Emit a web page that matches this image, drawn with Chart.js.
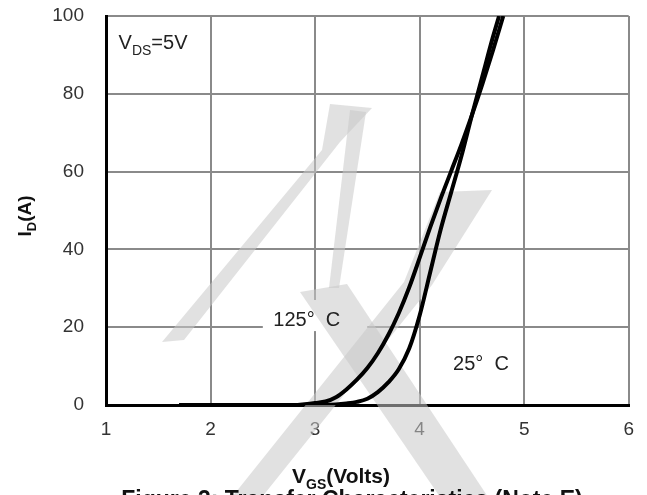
<!DOCTYPE html>
<html>
<head>
<meta charset="utf-8">
<script src="https://cdn.jsdelivr.net/npm/chart.js@4.4.0/dist/chart.umd.min.js"></script>
<style>
  html, body { margin: 0; padding: 0; background: #fff; }
  #wrap { width: 647px; height: 495px; }
</style>
</head>
<body>
<div id="wrap"><canvas id="c"></canvas></div>
<script>
// transfer curves
const vgs25 = [1.7, 3.0, 3.2, 3.3, 3.4, 3.5, 3.6, 3.7, 3.8, 3.9, 4.0, 4.1, 4.2, 4.3, 4.4, 4.5, 4.6, 4.7, 4.76];
const id25  = [0,   0,   0.15, 0.4, 0.8, 1.6, 3.3, 5.8, 9.2, 14.5, 23, 34, 45, 54.5, 64, 74.5, 84.5, 94.5, 100];
const vgs125 = [1.7, 2.8, 2.9, 3.0, 3.1, 3.2, 3.3, 3.4, 3.5, 3.6, 3.7, 3.8, 3.9, 4.0, 4.1, 4.2, 4.3, 4.4, 4.5, 4.6, 4.7, 4.8];
const id125  = [0,   0,   0.2, 0.5, 0.9, 2,   4,   6.5, 9.5, 13.3, 18, 23.6, 30.2, 37.8, 45.6, 53, 60, 67, 74.5, 82.5, 91, 100];
const xTicks = [1, 2, 3, 4, 5, 6];
const yTicks = [0, 20, 40, 60, 80, 100];

const FONT = '"Liberation Sans", Arial, sans-serif';

function toPts(xs, ys) {
  return xs.map((v, i) => ({ x: v, y: ys[i] }));
}

// text with a subscript part: [main, sub, rest]
function subText(ctx, x, y, parts, size, bold, align) {
  const f = (s) => (bold ? 'bold ' : '') + s + 'px ' + FONT;
  const subSize = Math.round(size * 0.68);
  ctx.font = f(size);
  const w1 = ctx.measureText(parts[0]).width;
  const w3 = ctx.measureText(parts[2]).width;
  ctx.font = f(subSize);
  const w2 = ctx.measureText(parts[1]).width;
  let x0 = x;
  if (align === 'center') x0 = x - (w1 + w2 + w3) / 2;
  ctx.textAlign = 'left';
  ctx.textBaseline = 'alphabetic';
  ctx.font = f(size);
  ctx.fillText(parts[0], x0, y);
  ctx.font = f(subSize);
  ctx.fillText(parts[1], x0 + w1, y + size * 0.28);
  ctx.font = f(size);
  ctx.fillText(parts[2], x0 + w1 + w2, y);
}

// faint logo watermark behind the curves
const watermark = [
  [[162, 342], [184, 340], [340, 142], [372, 108], [330, 104], [322, 150]],
  [[350, 110], [366, 112], [339, 288], [329, 288]],
  [[300, 292], [347, 284], [488, 497], [440, 497]],
  [[232, 497], [262, 497], [432, 285], [492, 190], [440, 192], [404, 282]]
];

const decor = {
  id: 'decor',
  beforeDatasetsDraw(chart) {
    const ctx = chart.ctx;
    const xs = chart.scales.x, ys = chart.scales.y;
    ctx.save();
    // white box behind the 125 C label
    ctx.fillStyle = '#fff';
    const bx = xs.getPixelForValue(2.5), by = ys.getPixelForValue(27);
    ctx.fillRect(bx, by, xs.getPixelForValue(3.5) - bx, ys.getPixelForValue(19) - by);
    ctx.fillStyle = 'rgba(200,200,200,0.55)';
    watermark.forEach(poly => {
      ctx.beginPath();
      poly.forEach((p, i) => (i ? ctx.lineTo(p[0], p[1]) : ctx.moveTo(p[0], p[1])));
      ctx.closePath();
      ctx.fill();
    });
    ctx.restore();
  },
  afterDatasetsDraw(chart) {
    const ctx = chart.ctx;
    const xs = chart.scales.x, ys = chart.scales.y;
    ctx.save();
    ctx.fillStyle = '#222';
    subText(ctx, xs.getPixelForValue(1.12), ys.getPixelForValue(91.5), ['V', 'DS', '=5V'], 20, false, 'left');
    ctx.font = '20px ' + FONT;
    ctx.textAlign = 'left';
    ctx.fillText('125°  C', xs.getPixelForValue(2.6), ys.getPixelForValue(20.3));
    ctx.fillText('25°  C', xs.getPixelForValue(4.32), ys.getPixelForValue(9));
    // axis titles
    ctx.fillStyle = '#111';
    subText(ctx, 341, 483, ['V', 'GS', '(Volts)'], 21, true, 'center');
    ctx.save();
    ctx.translate(31, 216);
    ctx.rotate(-Math.PI / 2);
    subText(ctx, 0, 0, ['I', 'D', '(A)'], 19, true, 'center');
    ctx.restore();
    ctx.font = 'bold 23px ' + FONT;
    ctx.textAlign = 'center';
    ctx.fillText('Figure 3: Transfer Characteristics (Note E)', 352, 507);
    ctx.restore();
  }
};

const gridStyle = { color: '#8a8a8a', lineWidth: 2, drawTicks: false };
const tickFont = { family: FONT, size: 19 };

new Chart(document.getElementById('c'), {
  type: 'line',
  data: {
    datasets: [
      { label: '25° C', data: toPts(vgs25, id25) },
      { label: '125° C', data: toPts(vgs125, id125) }
    ].map(d => Object.assign(d, {
      borderColor: '#000',
      borderWidth: 4,
      pointRadius: 0,
      fill: false,
      cubicInterpolationMode: 'monotone'
    }))
  },
  options: {
    responsive: true,
    maintainAspectRatio: false,
    animation: false,
    layout: { padding: { top: 16, right: 17, left: 0, bottom: 0 } },
    plugins: { legend: { display: false }, tooltip: { enabled: false } },
    scales: {
      x: {
        type: 'linear',
        min: xTicks[0],
        max: xTicks[xTicks.length - 1],
        afterBuildTicks: s => { s.ticks = xTicks.map(v => ({ value: v })); },
        afterFit: s => { s.height = 90; },
        ticks: { font: tickFont, color: '#333', padding: 13, maxRotation: 0 },
        grid: gridStyle,
        border: { color: '#000', width: 3 }
      },
      y: {
        min: yTicks[0],
        max: yTicks[yTicks.length - 1],
        afterBuildTicks: s => { s.ticks = yTicks.map(v => ({ value: v })); },
        // tick padding would otherwise push the plot down
        afterFit: s => { s.width = 106; s.paddingTop = 10; s.paddingBottom = 10; },
        ticks: { font: tickFont, color: '#333', padding: 22 },
        grid: gridStyle,
        border: { color: '#000', width: 3 }
      }
    }
  },
  plugins: [decor]
});
</script>
</body>
</html>
